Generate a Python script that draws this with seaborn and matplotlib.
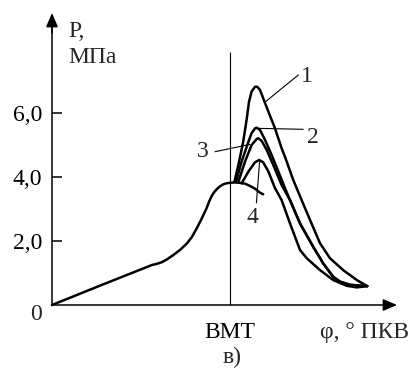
import matplotlib
matplotlib.use("Agg")
import matplotlib.pyplot as plt
import seaborn as sns
import pandas as pd

# ---- data (crank angle relative to TDC, pressure in MPa) ----
phi_main = [-44.5, -32.0, -19.5, -18.2, -17.0, -15.7, -14.3, -12.5, -10.8, -9.5, -8.3, -7.0,
            -5.8, -5.2, -4.6, -4.0, -3.3, -2.5, -1.7, -1.0, 0.0, 1.2, 2.5, 3.8, 5.0, 6.3, 7.5, 8.3]
p_main = [0.0, 0.63, 1.25, 1.29, 1.34, 1.43, 1.55, 1.72, 1.92, 2.13, 2.40, 2.72,
          3.04, 3.24, 3.40, 3.52, 3.62, 3.71, 3.77, 3.80, 3.82, 3.83, 3.82, 3.79, 3.72, 3.63, 3.51, 3.46]

phi_1 = [1.1, 2.1, 3.3, 4.2, 4.75, 5.4, 6.25, 6.8, 7.5, 8.3, 9.6, 11.25, 12.9, 13.75, 15.8, 17.9, 20.0, 22.5, 25.0, 28.3, 31.7, 34.3]
p_1 = [3.85, 4.38, 5.10, 5.83, 6.35, 6.67, 6.82, 6.82, 6.72, 6.46, 6.04, 5.52, 4.90, 4.63, 3.91, 3.28, 2.66, 1.93, 1.46, 1.09, 0.78, 0.59]

phi_2 = [1.5, 2.9, 4.6, 5.4, 6.25, 6.7, 7.5, 8.75, 10.4, 12.1, 13.75, 15.0, 17.5, 20.8, 23.3, 25.8, 27.5, 30.0, 34.3]
p_2 = [3.85, 4.48, 5.10, 5.37, 5.52, 5.54, 5.47, 5.16, 4.69, 4.17, 3.65, 3.28, 2.55, 1.82, 1.30, 0.88, 0.73, 0.63, 0.59]

phi_3 = [2.1, 3.75, 5.4, 6.7, 7.1, 7.9, 9.2, 10.8, 12.9, 15.0, 17.5, 20.8, 23.3, 25.8, 27.5, 30.0, 34.3]
p_3 = [3.85, 4.48, 5.00, 5.19, 5.21, 5.13, 4.84, 4.38, 3.75, 3.28, 2.55, 1.82, 1.30, 0.88, 0.73, 0.63, 0.59]

phi_4 = [2.9, 4.6, 6.25, 7.3, 8.3, 9.6, 11.25, 12.9, 15.0, 17.5, 19.2, 22.5, 25.8, 29.2, 31.7, 34.3]
p_4 = [3.80, 4.17, 4.46, 4.53, 4.46, 4.17, 3.65, 3.28, 2.55, 1.72, 1.46, 1.09, 0.78, 0.60, 0.55, 0.59]

y_ticks = [2.0, 4.0, 6.0]
y_tick_labels = ["2,0", "4,0", "6,0"]
x_tick_labels = ["ВМТ"]
curve_names = ["1", "2", "3", "4"]

# ---- figure ----
sns.set_theme(style="white")
plt.rcParams["font.family"] = ["Liberation Serif", "DejaVu Serif"]

fig = plt.figure(figsize=(4.12, 3.73), dpi=100)
ax = fig.add_axes([0, 0, 1, 1])
ax.set_facecolor("white")
fig.patch.set_facecolor("white")

X0 = -44.5
ax.set_xlim(-57.5, 45.5)
ax.set_ylim(-2.125, 9.53125)

curve_lw = 1.8
for phi, p in [(phi_main, p_main), (phi_1, p_1), (phi_2, p_2), (phi_3, p_3), (phi_4, p_4)]:
    df = pd.DataFrame({"phi": phi, "p": p})
    sns.lineplot(data=df, x="phi", y="p", sort=False, estimator=None,
                 color="black", lw=curve_lw, ax=ax, solid_capstyle="round",
                 solid_joinstyle="round")

# TDC vertical line
ax.vlines(0, 0, 7.9, color="black", lw=0.8)

# axes as spines
for s in ["top", "right"]:
    ax.spines[s].set_visible(False)
ax.spines["left"].set_position(("data", X0))
ax.spines["bottom"].set_position(("data", 0))
ax.spines["left"].set_bounds(0, 8.8)
ax.spines["bottom"].set_bounds(X0, 40.5)
for s in ["left", "bottom"]:
    ax.spines[s].set_color("black")
    ax.spines[s].set_linewidth(1.1)

fs = 17
ax.set_yticks(y_ticks, y_tick_labels)
ax.set_xticks([0], x_tick_labels)
ax.tick_params(axis="y", direction="in", length=7.5, width=1.1, color="black",
               pad=7, labelsize=fs, labelcolor="black", left=True)
ax.tick_params(axis="x", length=0, pad=12, labelsize=fs, labelcolor="black", bottom=True)
ax.set_xlabel("")
ax.set_ylabel("")

# arrow heads
ax.annotate("", xy=(X0, 9.125), xytext=(X0, 8.5),
            arrowprops=dict(arrowstyle="-|>,head_length=0.7,head_width=0.3",
                            color="black", lw=1.1, shrinkA=0, shrinkB=0))
ax.annotate("", xy=(41.75, 0), xytext=(39.5, 0),
            arrowprops=dict(arrowstyle="-|>,head_length=0.7,head_width=0.3",
                            color="black", lw=1.1, shrinkA=0, shrinkB=0))

ax.text(-48.5, -0.47, "0", ha="center", va="baseline", fontsize=fs)
ax.text(-40.5, 8.375, "P,", ha="left", va="baseline", fontsize=fs)
ax.text(-40.5, 7.56, "МПа", ha="left", va="baseline", fontsize=fs)
ax.text(33.75, -1.03, "φ, ° ПКВ", ha="center", va="baseline", fontsize=fs)
ax.text(0.5, -1.8, "в)", ha="center", va="baseline", fontsize=fs)

# curve labels with leader lines
label_pos = [(19.25, 6.97), (20.75, 5.06), (-6.9, 4.63), (5.6, 2.56)]
leader_from = [(17.1, 7.19), (18.3, 5.49), (-3.75, 4.79), (6.6, 3.19)]
leader_to = [(8.75, 6.34), (7.25, 5.52), (5.0, 5.02), (7.4, 4.47)]
for name, (tx, ty), (ax0, ay0), (ax1, ay1) in zip(curve_names, label_pos, leader_from, leader_to):
    ax.text(tx, ty, name, ha="center", va="baseline", fontsize=fs)
    ax.plot([ax0, ax1], [ay0, ay1], color="black", lw=0.8)

fig.savefig("out.png", dpi=100, facecolor="white")
